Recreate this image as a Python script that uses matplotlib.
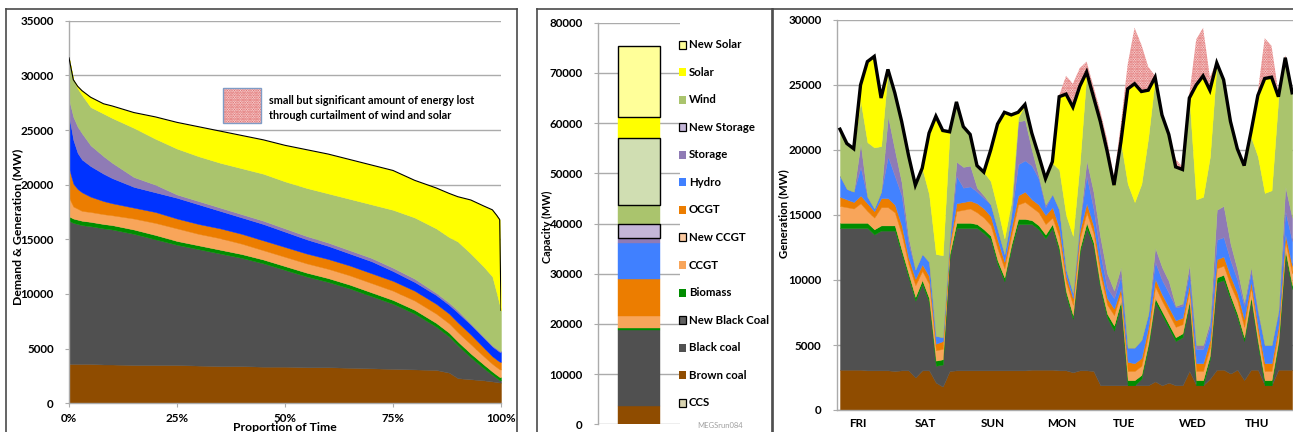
import numpy as np
import matplotlib
matplotlib.use("Agg")
import matplotlib.pyplot as plt
from matplotlib.patches import Rectangle
from matplotlib.lines import Line2D

plt.rcParams['font.family'] = ['Lato', 'DejaVu Sans']
plt.rcParams['font.weight'] = 'bold'
plt.rcParams['hatch.linewidth'] = 1.25

# ---------------- colours ----------------
C_BROWN = '#8F4C00'
C_BLACK = '#505050'
C_BIO = '#008C00'
C_CCGT = '#F8A55A'
C_OCGT = '#EC7D00'
C_HYDRO_LDC = '#0033FF'
C_HYDRO = '#4282FF'
C_STORE = '#8F7BB5'
C_WIND = '#AAC46D'
C_SOLAR = '#FFFF00'
C_CURT = '#DA5050'
C_CURT_BG = '#FDF2F2'
GRID = '#ABABAB'
FRAME = '#4A4A4A'

# ---------------- load duration curve: stack tops (MW) ----------------
ldc_pct = [0, 1, 2, 3, 5, 8, 10, 15, 20, 25, 30, 35, 40, 45, 50, 55, 60, 65, 70, 75,
           80, 85, 88, 90, 93, 96, 98, 99, 99.7, 100]
ldc_brown = [3600, 3600, 3600, 3600, 3600, 3550, 3550, 3500, 3500, 3500, 3450, 3400, 3400, 3350, 3350,
             3300, 3300, 3250, 3200, 3150, 3100, 3050, 2800, 2300, 2200, 2100, 2000, 1950, 1900, 1900]
ldc_black = [16700, 16500, 16400, 16300, 16200, 16000, 15900, 15500, 15000, 14500, 14100, 13700, 13300,
             12800, 12200, 11600, 11100, 10500, 9800, 9100, 8200, 7000, 6100, 5300, 4200, 3200, 2600,
             2300, 2100, 2100]
ldc_biomass = [17100, 16900, 16800, 16700, 16600, 16400, 16300, 15900, 15400, 14850, 14450, 14050, 13650,
               13150, 12550, 11950, 11450, 10850, 10150, 9450, 8550, 7350, 6450, 5650, 4550, 3550, 2900,
               2600, 2400, 2400]
ldc_ccgt = [18800, 18000, 17800, 17600, 17500, 17300, 17200, 16900, 16500, 16000, 15500, 15100, 14600,
            14000, 13400, 12800, 12300, 11700, 11000, 10300, 9400, 8200, 7300, 6500, 5400, 4300, 3600,
            3300, 3100, 3100]
ldc_ocgt = [21500, 20100, 19600, 19300, 18900, 18500, 18300, 17900, 17500, 16900, 16400, 16000, 15500,
            14900, 14300, 13700, 13200, 12600, 11900, 11200, 10300, 9100, 8200, 7400, 6300, 5100, 4300,
            4000, 3800, 3800]
ldc_hydro = [26300, 24100, 22900, 22300, 21700, 21000, 20600, 19800, 19300, 18800, 18200, 17600, 17000,
             16400, 15700, 15000, 14400, 13700, 13000, 12100, 11100, 9900, 9000, 8300, 7200, 6000, 5200,
             4900, 4700, 4700]
ldc_storage = [27800, 26200, 25300, 24700, 23600, 22600, 22000, 20700, 20000, 19100, 18500, 17900, 17300,
               16700, 16000, 15300, 14700, 14000, 13300, 12400, 11400, 10100, 9200, 8500, 7300, 6100,
               5300, 5000, 4800, 4800]
ldc_wind = [31600, 29600, 28800, 28200, 27100, 26500, 26100, 25200, 24200, 23300, 22600, 22000, 21500,
            21000, 20300, 19700, 19200, 18700, 18200, 17700, 17000, 16000, 15200, 14800, 13700, 12500,
            11600, 10100, 9000, 8500]
ldc_demand = [31600, 29600, 29000, 28600, 28000, 27400, 27200, 26600, 26200, 25700, 25300, 24900, 24500,
              24100, 23600, 23200, 22800, 22300, 21800, 21300, 20400, 19700, 19200, 18900, 18600, 18050,
              17700, 17200, 16800, 8500]
ldc_xticks = [0, 25, 50, 75, 100]
ldc_xticklabels = ['0%', '25%', '50%', '75%', '100%']

# ---------------- installed capacity (MW), bottom to top ----------------
cap_names = ['Brown coal', 'Black coal', 'Biomass', 'CCGT', 'OCGT', 'Hydro', 'Storage',
             'New Storage', 'Wind', 'New Wind', 'Solar', 'New Solar']
cap_values = [3650, 15150, 300, 2500, 7300, 7300, 850, 2850, 3800, 13300, 4200, 14200]
cap_colors = [C_BROWN, C_BLACK, C_BIO, C_CCGT, C_OCGT, '#4080FF', C_STORE,
              '#C4B6D8', C_WIND, '#D0DEB2', C_SOLAR, '#FFFF99']
cap_outlined = [False, False, False, False, False, False, False, True, False, True, False, True]

legend_labels = ['New Solar', 'Solar', 'Wind', 'New Storage', 'Storage', 'Hydro', 'OCGT',
                 'New CCGT', 'CCGT', 'Biomass', 'New Black Coal', 'Black coal', 'Brown coal', 'CCS']
legend_colors = ['#FFFF99', C_SOLAR, C_WIND, '#C4B6D8', C_STORE, '#4080FF', C_OCGT,
                 '#FCCBA2', C_CCGT, C_BIO, '#606060', C_BLACK, C_BROWN, '#D8D3B0']
legend_outlined = [True, False, False, True, False, False, False,
                   True, False, False, True, False, False, True]

# ---------------- one week of dispatch: stack tops (MW) ----------------
wk_demand = [21600, 20500, 20100, 25000, 26800, 27200, 24000, 26200, 24400, 22200,
             19600, 17300, 18600, 21300, 22600, 21500, 21400, 23700, 21800, 21200,
             18800, 18300, 20000, 22000, 22900, 22700, 22900, 23500, 21300, 19600,
             17800, 19100, 24100, 24300, 23300, 24900, 26000, 24100, 22200, 19900,
             17300, 20600, 24700, 25100, 24500, 24600, 25600, 22700, 21200, 18700,
             18500, 24000, 25000, 25700, 24600, 26700, 25400, 22200, 20100, 18800,
             21400, 24200, 25500, 25600, 24100, 27100, 24400]
wk_curtailed = [0, 0, 0, 0, 0, 0, 0, 0, 0, 0,
                0, 0, 0, 0, 0, 0, 0, 0, 0, 0,
                0, 0, 0, 0, 0, 0, 0, 0, 0, 0,
                0, 0, 100, 1400, 1800, 1400, 800, 800, 800, 900,
                600, 1400, 1900, 4300, 3600, 1800, 100, 100, 100, 600,
                200, 300, 3500, 3700, 1000, 100, 0, 0, 0, 0,
                0, 300, 3100, 2400, 300, 200, 300]
wk_brown = [3100, 3100, 3100, 3100, 3050, 3050, 3050, 3050, 3000, 3050,
            3050, 2500, 3050, 3050, 2100, 1800, 3000, 3050, 3050, 3050,
            3050, 3050, 3050, 3050, 3050, 3050, 3050, 3050, 3100, 3100,
            3100, 3100, 3050, 3050, 2900, 3050, 3050, 3000, 1900, 1900,
            1900, 1900, 1900, 1900, 1900, 1900, 2200, 1900, 2100, 1900,
            1900, 3000, 1900, 1900, 2400, 3100, 3100, 2800, 3100, 2300,
            3100, 3100, 1900, 1900, 3100, 3100, 3100]
wk_black = [14000, 14000, 14000, 14000, 14000, 13500, 13800, 13800, 13800, 12000,
            10200, 8400, 9700, 8300, 3400, 3500, 11700, 14000, 14000, 14000,
            14000, 13600, 13100, 11200, 9900, 12400, 14300, 14300, 14300, 13900,
            13200, 14000, 12200, 8800, 7000, 12100, 14000, 12600, 9300, 7100,
            6100, 8100, 1900, 1900, 2400, 4800, 8300, 7300, 6300, 5300,
            5600, 8100, 1900, 1900, 3900, 9800, 10000, 8500, 7100, 5300,
            8400, 5000, 1900, 1900, 5000, 11900, 9300]
wk_biomass = [14400, 14400, 14400, 14400, 14400, 13900, 14200, 14200, 14200, 12300,
              10500, 8700, 10000, 8600, 3800, 3900, 12000, 14400, 14400, 14400,
              14300, 13900, 13400, 11500, 10200, 12700, 14700, 14700, 14600, 14200,
              13500, 14300, 12500, 9100, 7300, 12400, 14400, 12900, 9600, 7400,
              6500, 8400, 2300, 2300, 2700, 5100, 8600, 7600, 6600, 5600,
              5900, 8400, 2300, 2300, 4200, 10200, 10400, 8800, 7400, 5600,
              8700, 5300, 2300, 2300, 5300, 12300, 9600]
wk_ccgt = [15700, 15600, 15500, 15900, 15300, 14800, 15600, 15600, 15200, 13500,
           11200, 9600, 10700, 9700, 4600, 4700, 12500, 15300, 15400, 15500,
           15200, 14800, 14200, 12400, 10900, 13400, 15800, 16000, 15600, 15200,
           14300, 14800, 13300, 9800, 8100, 13200, 15200, 13600, 10400, 8100,
           7300, 9000, 3000, 3000, 3400, 5800, 9500, 8400, 7400, 6400,
           6600, 9200, 3000, 3000, 4800, 10900, 11100, 9600, 8400, 6400,
           9400, 6000, 3000, 3000, 6000, 13000, 10500]
wk_ocgt = [16400, 16200, 16000, 16500, 15900, 15300, 16300, 16300, 15800, 14200,
           11700, 10100, 11200, 10300, 5100, 5300, 12800, 15900, 16000, 16100,
           15900, 15500, 14900, 13100, 11400, 14000, 16500, 16800, 16200, 15800,
           15000, 15600, 14000, 10300, 8600, 13800, 15900, 14200, 11000, 8600,
           7800, 9400, 3700, 3600, 4000, 6400, 10100, 8900, 7900, 6900,
           7100, 9700, 3600, 3600, 5400, 11600, 11800, 10300, 9000, 7000,
           9900, 6500, 3600, 3600, 6500, 13500, 11100]
wk_hydro = [18000, 17000, 16800, 18700, 16400, 15500, 16800, 19500, 18000, 16500,
            12800, 10800, 12000, 11400, 5700, 5600, 13200, 18000, 17100, 17200,
            16800, 16300, 15800, 13900, 12000, 15000, 18900, 19200, 18800, 17800,
            15600, 16600, 15400, 10800, 9000, 14500, 18000, 15500, 12000, 9400,
            8600, 10300, 4800, 4800, 5400, 7400, 11400, 10000, 9000, 7900,
            8000, 10600, 4700, 4700, 6400, 13100, 13300, 11500, 10000, 8000,
            10600, 7500, 5000, 5000, 7500, 15300, 13000]
wk_storage = [18000, 17000, 16800, 20500, 16400, 15500, 16800, 22600, 20000, 17500,
              13300, 10800, 12000, 11400, 5700, 5600, 13200, 19100, 18700, 18800,
              17100, 16500, 15800, 13900, 12000, 15000, 22200, 22300, 20000, 18000,
              15800, 16600, 15400, 10800, 9000, 14500, 19200, 16800, 13300, 10500,
              9200, 11000, 4800, 4800, 5400, 7400, 12500, 11000, 9900, 8000,
              8200, 11200, 5000, 5000, 6800, 15400, 15700, 12800, 10800, 8300,
              11000, 7700, 5000, 5000, 7700, 17200, 14800]
wk_wind = [21600, 20500, 20100, 23800, 20600, 20200, 20300, 26200, 24400, 22200,
           19600, 17300, 18600, 16600, 12000, 11900, 21400, 23700, 21800, 21200,
           18800, 18300, 17600, 15500, 13200, 16000, 22500, 23500, 21300, 19600,
           17800, 19000, 18500, 15000, 13400, 19000, 26000, 24100, 22200, 19900,
           17300, 20600, 17400, 16000, 17400, 21000, 25600, 22700, 21200, 18700,
           18500, 24000, 16200, 16400, 19500, 26700, 25400, 22200, 20100, 18800,
           21000, 19500, 16700, 16900, 24100, 27100, 24400]
day_names = ['FRI', 'SAT', 'SUN', 'MON', 'TUE', 'WED', 'THU']
day_pos = [2.6, 12.4, 22.3, 32.4, 41.5, 51.5, 60.9]

# ---------------- figure layout ----------------
W, H = 1293, 432
fig = plt.figure(figsize=(W / 100, H / 100), dpi=100)


def box(l, t, r, b):
    return [l / W, 1 - b / H, (r - l) / W, (b - t) / H]


def fx(x):
    return x / W


def fy(y):
    return 1 - y / H


def style_axes(ax):
    for s in ('top', 'right'):
        ax.spines[s].set_visible(False)
    for s in ('left', 'bottom'):
        ax.spines[s].set_color(GRID)
        ax.spines[s].set_linewidth(1.0)
    ax.yaxis.grid(True, color=GRID, linewidth=1.0)
    ax.set_axisbelow(True)
    ax.tick_params(axis='both', direction='out', length=3, width=0.8, color=GRID,
                   labelcolor='black', labelsize=8.4)


def stack(ax, x, tops, colors):
    lower = np.zeros(len(x))
    for top, c in zip(tops, colors):
        top = np.asarray(top, dtype=float)
        ax.fill_between(x, lower, top, facecolor=c, edgecolor=c, linewidth=0.3, zorder=2)
        lower = top


# ---- panel frames ----
def hline(x0, x1, y):
    fig.add_artist(Line2D([fx(x0), fx(x1)], [fy(y), fy(y)], color=FRAME, lw=1.2))


def vline(x, y0, y1):
    fig.add_artist(Line2D([fx(x), fx(x)], [fy(y0), fy(y1)], color=FRAME, lw=1.2))


hline(6, 517, 9); vline(6, 9, 432); vline(517, 9, 432)
hline(537, 772, 8.5); vline(537, 8.5, 432); vline(772, 8.5, 432)
hline(773, 1293, 9); vline(773, 9, 432)

# ---------------- panel 1: load duration curve ----------------
ax1 = fig.add_axes(box(69, 20.7, 501, 403.3))
style_axes(ax1)
x1 = np.array(ldc_pct, dtype=float)
stack(ax1, x1,
      [ldc_brown, ldc_black, ldc_biomass, ldc_ccgt, ldc_ocgt, ldc_hydro, ldc_storage, ldc_wind, ldc_demand],
      [C_BROWN, C_BLACK, C_BIO, C_CCGT, C_OCGT, C_HYDRO_LDC, C_STORE, C_WIND, C_SOLAR])
ax1.plot(x1, ldc_demand, color='black', lw=0.8, zorder=3)
ax1.set_xlim(0, 100)
ax1.set_ylim(0, 35000)
ax1.set_yticks(range(0, 35001, 5000))
ax1.set_xticks(ldc_xticks)
ax1.set_xticklabels(ldc_xticklabels)
ax1.tick_params(axis='y', pad=8)
ax1.tick_params(axis='x', pad=4)

# curtailment key inside the panel
ax1.add_patch(Rectangle((35.6, 25600), 8.8, 3200, facecolor=C_CURT_BG, edgecolor=C_CURT,
                        hatch='.......', linewidth=0, zorder=4))
ax1.add_patch(Rectangle((35.6, 25600), 8.8, 3200, facecolor='none', edgecolor='#7F9CC6',
                        linewidth=1.0, zorder=5))
ax1.text(46.3, 27050, 'small but significant amount of energy lost\nthrough curtailment of wind and solar',
         fontsize=7.8, va='center', ha='left', linespacing=1.45, zorder=5)

fig.text(fx(18), fy(227), 'Demand & Generation (MW)', rotation=90, ha='center', va='center', fontsize=8.8)
fig.text(fx(285), fy(431), 'Proportion of Time', ha='center', va='baseline', fontsize=8.8)

# ---------------- panel 2: capacity mix ----------------
ax2 = fig.add_axes(box(598, 22.7, 680, 424.3))
style_axes(ax2)
bottoms = np.concatenate([[0], np.cumsum(cap_values)[:-1]])
for val, bot, col, outl in zip(cap_values, bottoms, cap_colors, cap_outlined):
    ax2.bar(0, val, bottom=bot, width=0.51, color=col,
            edgecolor='black' if outl else col, linewidth=1.0 if outl else 0.3, zorder=3 if outl else 2)
ax2.set_xlim(-0.5, 0.5)
ax2.set_ylim(0, 80000)
ax2.set_yticks(range(0, 80001, 10000))
ax2.set_xticks([])
ax2.spines['bottom'].set_visible(False)
ax2.tick_params(axis='y', pad=8)

fig.text(fx(547), fy(227), 'Capacity (MW)', rotation=90, ha='center', va='center', fontsize=7.8)

leg_y0, leg_dy = 44.7, 27.54
for k, (lab, col, outl) in enumerate(zip(legend_labels, legend_colors, legend_outlined)):
    yc = leg_y0 + k * leg_dy
    fig.add_artist(Rectangle((fx(678.5), fy(yc + 4)), 7.5 / W, 8 / H, facecolor=col,
                             edgecolor='black' if outl else col, linewidth=0.9 if outl else 0,
                             transform=fig.transFigure))
    fig.text(fx(689), fy(yc), lab, ha='left', va='center', fontsize=8.2)

fig.text(fx(720), fy(425), 'MEGSrun084', ha='center', va='center', fontsize=5.5,
         color='#A0A0A0', fontweight='normal')

# ---------------- panel 3: weekly dispatch ----------------
ax3 = fig.add_axes(box(836.7, 20, 1293, 410))
style_axes(ax3)
t = np.arange(len(wk_demand))
demand = np.array(wk_demand, dtype=float)
stack(ax3, t,
      [wk_brown, wk_black, wk_biomass, wk_ccgt, wk_ocgt, wk_hydro, wk_storage, wk_wind, wk_demand],
      [C_BROWN, C_BLACK, C_BIO, C_CCGT, C_OCGT, C_HYDRO, C_STORE, C_WIND, C_SOLAR])
ax3.fill_between(t, demand, demand + np.array(wk_curtailed), facecolor=C_CURT_BG, edgecolor=C_CURT,
                 hatch='.......', linewidth=0, zorder=2)
ax3.plot(t, demand, color='black', lw=2.4, zorder=4, solid_joinstyle='miter')
ax3.set_xlim(-0.48, 66.13)
ax3.set_ylim(0, 30000)
ax3.set_yticks(range(0, 30001, 5000))
ax3.set_xticks(day_pos)
ax3.set_xticklabels(day_names)
ax3.tick_params(axis='x', length=0, pad=6)
ax3.tick_params(axis='y', pad=8)

fig.text(fx(784), fy(214), 'Generation (MW)', rotation=90, ha='center', va='center', fontsize=8.2)

fig.savefig('out.png', dpi=100)
